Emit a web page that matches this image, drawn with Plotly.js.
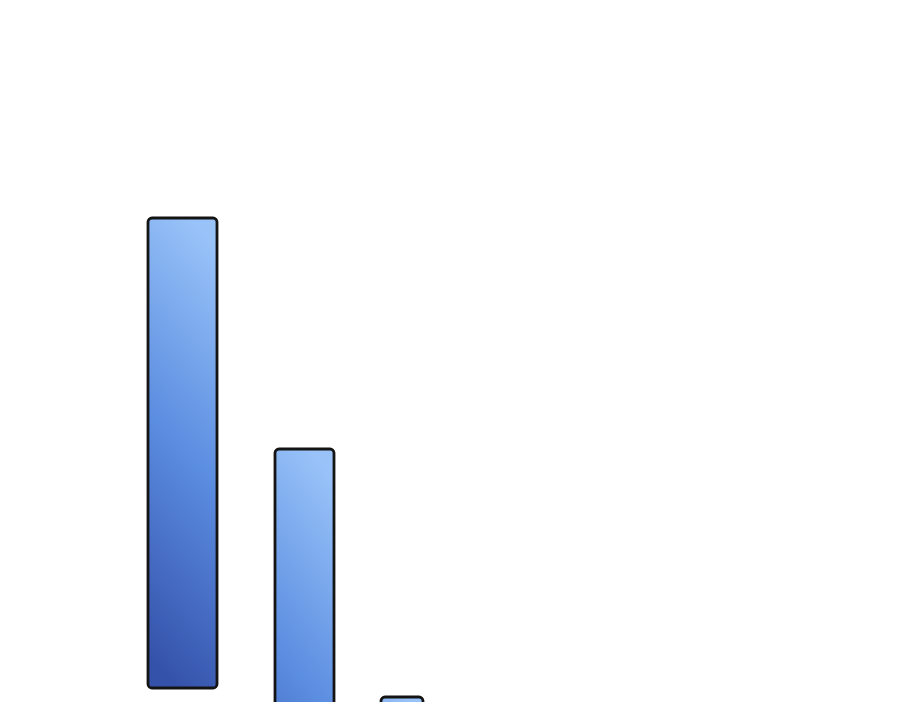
<!DOCTYPE html>
<html>
<head>
<meta charset="utf-8">
<script src="https://cdn.plot.ly/plotly-3.0.1.min.js"></script>
<style>
  body { margin: 0; background: #fff; }
  #chart { width: 900px; height: 702px; }
</style>
</head>
<body>
<div id="chart"></div>
<script>
// bar data (hidden axes, 0 = bottom edge)
const barPos = [1.825, 3.045, 4.02]
const barTop = [484, 253, 5]
const barBase = [14, -220, -220]
const barWidth = [0.69, 0.59, 0.42]

// heights from base to top
const barHeight = barTop.map((t, i) => t - barBase[i])

const trace = {
  type: 'bar',
  x: barPos,
  y: barHeight,
  base: barBase,
  width: barWidth,
  marker: {
    color: '#5b8fe0',
    cornerradius: 4,
    line: { color: '#141414', width: 2.8 },
  },
  hoverinfo: 'none',
}

const layout = {
  width: 900,
  height: 702,
  margin: { l: 0, r: 0, t: 0, b: 0 },
  paper_bgcolor: '#fff',
  plot_bgcolor: '#fff',
  showlegend: false,
  xaxis: { range: [0, 9], visible: false, fixedrange: true },
  yaxis: { range: [0, 702], visible: false, fixedrange: true },
}

Plotly.newPlot('chart', [trace], layout, { staticPlot: true }).then(gd => {
  //gradient fill, light at top going darker to the bottom
  const ns = 'http://www.w3.org/2000/svg'
  const svg = gd.querySelector('svg.main-svg')
  let defs = svg.querySelector('defs')
  if (!defs) {
    defs = document.createElementNS(ns, 'defs')
    svg.insertBefore(defs, svg.firstChild)
  }
  const grad = document.createElementNS(ns, 'linearGradient')
  grad.setAttribute('id', 'barGrad')
  grad.setAttribute('x1', '0.58')
  grad.setAttribute('y1', '0')
  grad.setAttribute('x2', '0.42')
  grad.setAttribute('y2', '1')
  const stops = [['0', '#98c2f8'], ['0.5', '#5a8ce0'], ['1', '#3552aa']]
  stops.forEach(([o, c]) => {
    const s = document.createElementNS(ns, 'stop')
    s.setAttribute('offset', o)
    s.setAttribute('stop-color', c)
    grad.appendChild(s)
  })
  defs.appendChild(grad)
  gd.querySelectorAll('.bars .point path').forEach(p => {
    p.style.fill = 'url(#barGrad)'
  })
})
</script>
</body>
</html>
